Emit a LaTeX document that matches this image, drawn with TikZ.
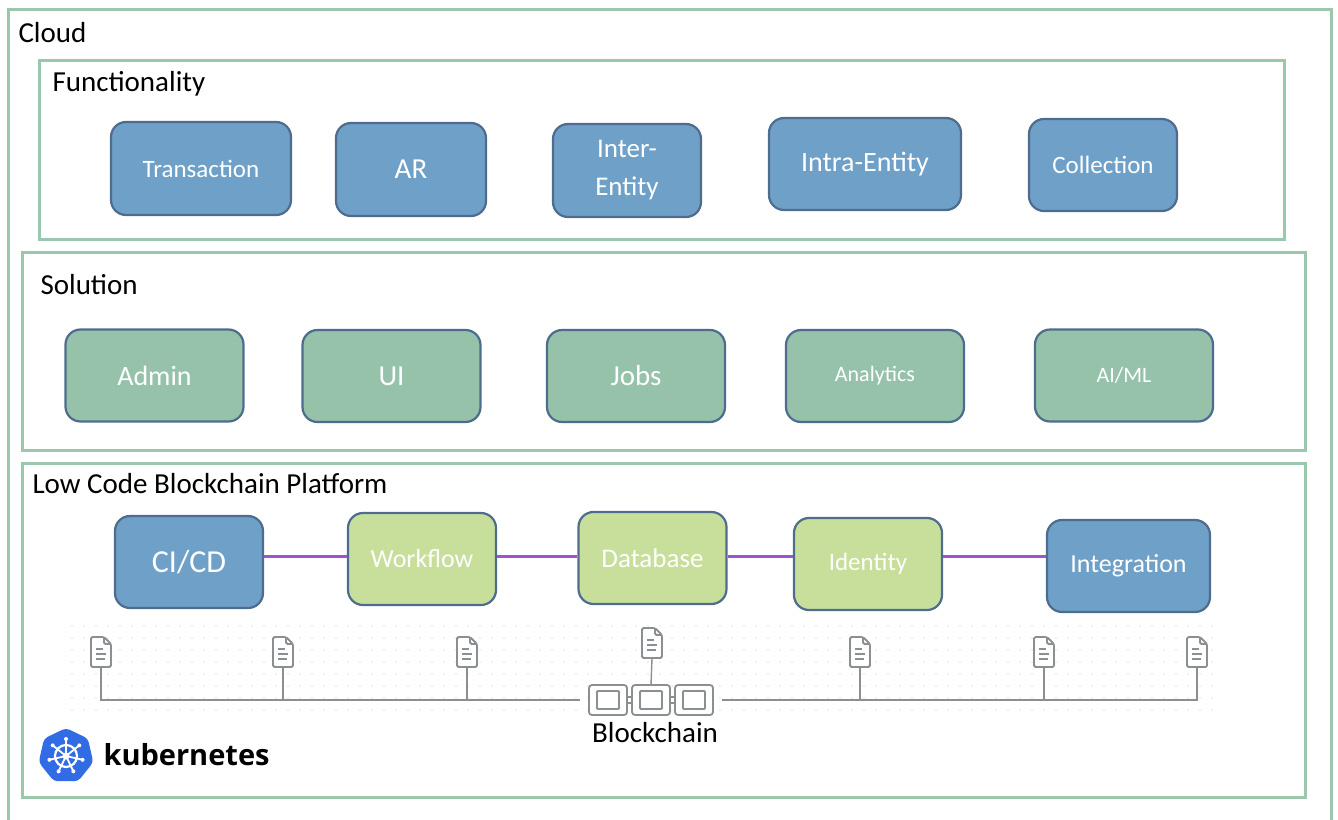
\documentclass[tikz,border=0pt]{standalone}
\usepackage{fontspec}
\setmainfont{Carlito}
\newfontfamily\kubefont{Open Sans}
\usetikzlibrary{shapes.geometric}
\begin{document}
\begin{tikzpicture}[x=1pt, y=-1pt,
  frame/.style={draw=framegreen, line width=3pt},
  title/.style={anchor=west, font=\fontsize{29}{34}\selectfont},
  card/.style={rounded corners=15pt, draw=cardedge, line width=2.2pt, text=white,
    align=center, inner sep=0pt, minimum width=148pt, minimum height=92pt},
  bluecard/.style={card, fill=cardblue},
  solcard/.style={card, fill=solgreen, minimum width=178pt},
  leafcard/.style={card, fill=leafgreen},
  link/.style={draw=linkpurple, line width=3pt},
  docnode/.style={minimum width=18pt, minimum height=30pt, inner sep=0pt},
  bus/.style={draw=docgray, line width=1.4pt},
  icon/.style={draw=docgray, line width=1.8pt, rounded corners=1.5pt}]
  \definecolor{framegreen}{RGB}{155,200,172}
  \definecolor{cardblue}{RGB}{111,160,200}
  \definecolor{cardedge}{RGB}{78,108,142}
  \definecolor{solgreen}{RGB}{150,194,170}
  \definecolor{leafgreen}{RGB}{200,223,156}
  \definecolor{linkpurple}{RGB}{165,80,210}
  \definecolor{docgray}{RGB}{140,143,145}
  \definecolor{dotgray}{RGB}{225,225,225}
  \definecolor{kubeblue}{RGB}{50,108,229}
  \useasboundingbox (0,0) rectangle (1338,819);

  % frames
  \draw [frame] (8,9) rectangle (1331,840);
  \draw [frame] (39,60) rectangle (1284,239);
  \draw [frame] (22,252) rectangle (1305,450);
  \draw [frame] (22,463) rectangle (1305,797);
  \node [title] (cloud) at (15,33) {Cloud};
  \node [title] (func) at (49,84) {Functionality};
  \node [title] (sol) at (37,285) {Solution};
  \node [title] (lowcode) at (29,484) {Low Code Blockchain Platform};

  % functionality
  \node [bluecard, minimum width=180pt, minimum height=93pt, font=\fontsize{25}{30}\selectfont] (trans) at (201,168.5) {Transaction};
  \node [bluecard, minimum width=150pt, minimum height=93pt, font=\fontsize{29}{34}\selectfont] (ar) at (411,169.5) {AR};
  \node [bluecard, minimum height=93pt, font=\fontsize{27}{38}\selectfont] (inter) at (627,170.5) {Inter-\\Entity};
  \node [bluecard, minimum width=192pt, font=\fontsize{28}{34}\selectfont] (intra) at (865,164) {Intra-Entity};
  \node [bluecard, font=\fontsize{25}{30}\selectfont] (coll) at (1103,165) {Collection};

  % solution
  \node [solcard, font=\fontsize{28}{34}\selectfont] (admin) at (154.5,375.5) {Admin};
  \node [solcard, font=\fontsize{29}{34}\selectfont] (ui) at (391.5,376) {UI};
  \node [solcard, font=\fontsize{29}{34}\selectfont] (jobs) at (636,376) {Jobs};
  \node [solcard, font=\fontsize{22}{26}\selectfont] (analytics) at (875,376) {Analytics};
  \node [solcard, font=\fontsize{22}{26}\selectfont] (aiml) at (1124,375.5) {AI/ML};

  % platform
  \coordinate (lane) at (0,556);
  \node [bluecard, font=\fontsize{32}{36}\selectfont] (cicd) at (189,562) {CI/CD};
  \node [leafcard, font=\fontsize{26}{30}\selectfont] (wf) at (422,559) {Workflow};
  \node [leafcard, font=\fontsize{27}{30}\selectfont] (db) at (652.5,558) {Database};
  \node [leafcard, font=\fontsize{25}{30}\selectfont] (ident) at (868,564) {Identity};
  \node [bluecard, minimum width=163pt, font=\fontsize{26}{30}\selectfont] (integ) at (1128.5,566) {Integration};
  \draw [link] (cicd.east |- lane) -- (wf.west |- lane);
  \draw [link] (wf.east |- lane) -- (db.west |- lane);
  \draw [link] (db.east |- lane) -- (ident.west |- lane);
  \draw [link] (ident.east |- lane) -- (integ.west |- lane);

  % dotted ledger background
  \foreach \x in {72,84,...,1216}
    \foreach \y in {626,638,...,716}
      \fill [dotgray] (\x,\y) circle (0.9);

  % chain
  \node [minimum width=126pt, minimum height=30pt, inner sep=0pt] (bc) at (651,700) {};
  \foreach \dx in {-21,21}
    \draw [icon, fill=white] ([xshift=\dx]bc.center) ++(-6,-3) rectangle ++(12,6);
  \foreach \dx in {-43,0,43} {
    \draw [icon, rounded corners=3pt, fill=white] ([xshift=\dx]bc.center) ++(-19,-15) rectangle ++(38,30);
    \draw [icon, rounded corners=1pt] ([xshift=\dx]bc.center) ++(-11,-9) rectangle ++(22,18);
  }
  \node [font=\fontsize{29}{34}\selectfont] (bclabel) at (655,733) {Blockchain};

  % documents
  \node [docnode] (d1) at (101,652) {};
  \node [docnode] (d2) at (283,652) {};
  \node [docnode] (d3) at (467,652) {};
  \node [docnode] (d4) at (652,643) {};
  \node [docnode] (d5) at (860,652) {};
  \node [docnode] (d6) at (1044,652) {};
  \node [docnode] (d7) at (1197,652) {};
  \foreach \i in {1,...,7} {
    \begin{scope}[shift={(d\i.center)}]
      \draw [icon, fill=white] (-10,-15) -- (3,-15) -- (10,-8) -- (10,15) -- (-10,15) -- cycle;
      \draw [icon] (3,-15) -- (3,-8) -- (10,-8);
      \draw [icon, rounded corners=0pt, line width=1.5pt] (-5,-3) -- (2,-3) (-5,2) -- (5,2) (-5,7) -- (4,7);
    \end{scope}
  }
  \draw [bus] (d1.south) |- ([xshift=-8pt]bc.west);
  \draw [bus] (d2.south) -- (d2.south |- bc.west);
  \draw [bus] (d3.south) -- (d3.south |- bc.west);
  \draw [bus] (d4.south) -- (bc.north);
  \draw [bus] (d7.south) |- ([xshift=8pt]bc.east);
  \draw [bus] (d5.south) -- (d5.south |- bc.east);
  \draw [bus] (d6.south) -- (d6.south |- bc.east);

  % kubernetes
  \node [regular polygon, regular polygon sides=7, fill=kubeblue, minimum size=56pt,
    rounded corners=4pt, inner sep=0pt] (k8s) at (66,756) {};
  \draw [white, line width=2.2pt] (k8s.center) circle (11);
  \foreach \a in {0,...,6} {
    \draw [white, line width=1.8pt] (k8s.center) -- ++(-90+\a*360/7:17);
    \fill [white] (k8s.center) ++(-90+\a*360/7:17) circle (2);
  }
  \fill [white] (k8s.center) circle (3.5);
  \node [anchor=west, font=\kubefont\bfseries\fontsize{29}{34}\selectfont] (k8stext) at (100,755) {kubernetes};
\end{tikzpicture}
\end{document}
